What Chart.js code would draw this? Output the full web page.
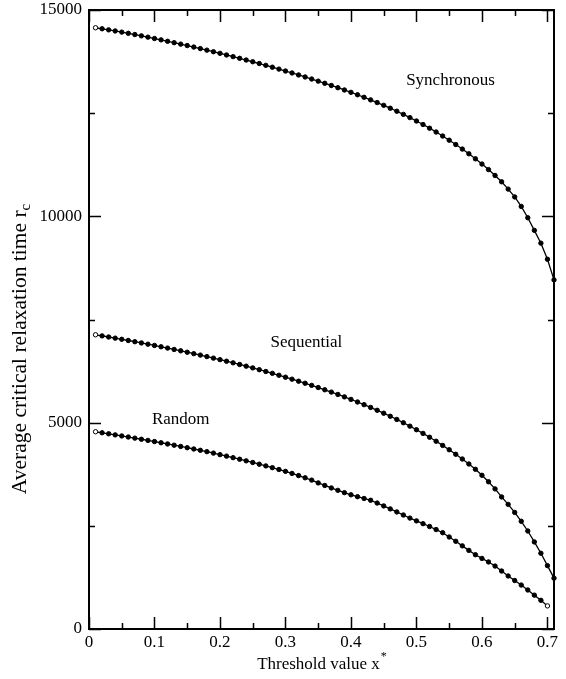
<!DOCTYPE html>
<html>
<head>
<meta charset="utf-8">
<script src="https://cdn.jsdelivr.net/npm/chart.js@4.4.1/dist/chart.umd.min.js"></script>
<style>
  html, body { margin: 0; padding: 0; background: #fff; }
</style>
</head>
<body>
<canvas id="relax-canva" width="566" height="679"></canvas>
<script>
// threshold values x* (step 0.01)
const thresholds = [
  0.01, 0.02, 0.03, 0.04, 0.05, 0.06, 0.07, 0.08, 0.09, 0.10,
  0.11, 0.12, 0.13, 0.14, 0.15, 0.16, 0.17, 0.18, 0.19, 0.20,
  0.21, 0.22, 0.23, 0.24, 0.25, 0.26, 0.27, 0.28, 0.29, 0.30,
  0.31, 0.32, 0.33, 0.34, 0.35, 0.36, 0.37, 0.38, 0.39, 0.40,
  0.41, 0.42, 0.43, 0.44, 0.45, 0.46, 0.47, 0.48, 0.49, 0.50,
  0.51, 0.52, 0.53, 0.54, 0.55, 0.56, 0.57, 0.58, 0.59, 0.60,
  0.61, 0.62, 0.63, 0.64, 0.65, 0.66, 0.67, 0.68, 0.69, 0.70,
  0.71
];

// average critical relaxation time for each update scheme
const synchronous = [
  14570, 14545, 14519, 14492, 14464, 14435, 14405, 14374, 14342, 14309,
  14276, 14242, 14208, 14173, 14138, 14102, 14065, 14027, 13989, 13950,
  13910, 13870, 13829, 13788, 13746, 13703, 13659, 13614, 13568, 13521,
  13474, 13426, 13377, 13327, 13276, 13224, 13171, 13117, 13062, 13005,
  12946, 12885, 12822, 12757, 12690, 12620, 12547, 12471, 12392, 12310,
  12225, 12136, 12043, 11946, 11845, 11740, 11630, 11515, 11394, 11267,
  11133, 10990, 10837, 10660, 10470, 10240, 9965, 9660, 9350, 8960,
  8460
];

const sequential = [
  7130, 7103, 7076, 7048, 7020, 6991, 6962, 6932, 6902, 6871,
  6839, 6807, 6774, 6741, 6707, 6672, 6637, 6601, 6564, 6527,
  6489, 6450, 6410, 6369, 6327, 6284, 6240, 6195, 6149, 6102,
  6054, 6005, 5955, 5904, 5851, 5797, 5741, 5684, 5625, 5564,
  5501, 5436, 5369, 5300, 5229, 5155, 5078, 4998, 4915, 4829,
  4740, 4647, 4550, 4449, 4344, 4234, 4119, 3999, 3870, 3725,
  3568, 3395, 3200, 3020, 2825, 2610, 2375, 2110, 1835, 1535,
  1232
];

// random scheme stops at x* = 0.70
const random = [
  4780, 4755, 4730, 4704, 4678, 4652, 4625, 4598, 4570, 4542,
  4513, 4484, 4454, 4424, 4393, 4362, 4330, 4298, 4262, 4225,
  4189, 4152, 4114, 4075, 4035, 3994, 3952, 3909, 3865, 3820,
  3770, 3718, 3664, 3608, 3540, 3478, 3418, 3360, 3304, 3252,
  3206, 3163, 3120, 3052, 2982, 2910, 2837, 2762, 2688, 2620,
  2552, 2484, 2410, 2333, 2230, 2125, 2015, 1905, 1800, 1710,
  1625, 1525, 1405, 1285, 1175, 1065, 945, 820, 695, 560
];

const xMinorTicks = [0.05, 0.15, 0.25, 0.35, 0.45, 0.55, 0.65];
const yMinorTicks = [2500, 7500, 12500];

const curveLabels = [
  { text: 'Synchronous', x: 0.552, y: 13280 },
  { text: 'Sequential',  x: 0.332, y: 6930 },
  { text: 'Random',      x: 0.140, y: 5064 }
];

const SERIF = '"Liberation Serif", "DejaVu Serif", serif';

function toPoints(values) {
  return values.map((v, i) => ({ x: thresholds[i], y: v }));
}

function makeSet(label, values) {
  const last = values.length - 1;
  return {
    label: label,
    data: toPoints(values),
    borderColor: '#000',
    borderWidth: 1.3,
    pointRadius: 2.2,
    pointBorderWidth: 1,
    pointBorderColor: '#000',
    // first point (and the last one of the random run) drawn hollow
    pointBackgroundColor: ctx => (ctx.dataIndex === 0 || (label === 'Random' && ctx.dataIndex === last)) ? '#fff' : '#000',
    tension: 0,
    clip: false
  };
}

const whiteBg = {
  id: 'whiteBg',
  beforeDraw(chart) {
    const ctx = chart.ctx;
    ctx.save();
    ctx.fillStyle = '#fff';
    ctx.fillRect(0, 0, chart.width, chart.height);
    ctx.restore();
  }
};

// box around the plot with inward ticks on all four sides
const frameTicks = {
  id: 'frameTicks',
  afterDatasetsDraw(chart) {
    const { ctx, chartArea: a, scales: { x, y } } = chart;
    ctx.save();
    ctx.strokeStyle = '#000';
    ctx.lineWidth = 1.5;
    ctx.beginPath();
    const xTick = (v, len) => {
      const px = Math.round(x.getPixelForValue(v)) + 0.5;
      ctx.moveTo(px, a.bottom); ctx.lineTo(px, a.bottom - len);
      ctx.moveTo(px, a.top); ctx.lineTo(px, a.top + len);
    };
    const yTick = (v, len) => {
      const py = Math.round(y.getPixelForValue(v)) + 0.5;
      ctx.moveTo(a.left, py); ctx.lineTo(a.left + len, py);
      ctx.moveTo(a.right, py); ctx.lineTo(a.right - len, py);
    };
    x.ticks.forEach(t => xTick(t.value, 12));
    xMinorTicks.forEach(v => xTick(v, 6));
    y.ticks.forEach(t => yTick(t.value, 12));
    yMinorTicks.forEach(v => yTick(v, 6));
    ctx.stroke();
    ctx.lineWidth = 2;
    ctx.strokeRect(a.left, a.top, a.right - a.left, a.bottom - a.top);
    ctx.restore();
  }
};

// curve names and axis titles (with sub/superscripts)
const texts = {
  id: 'texts',
  afterDraw(chart) {
    const { ctx, chartArea: a, scales: { x, y } } = chart;
    ctx.save();
    ctx.fillStyle = '#000';
    ctx.textBaseline = 'middle';
    ctx.textAlign = 'center';
    ctx.font = '17px ' + SERIF;
    curveLabels.forEach(l => {
      ctx.fillText(l.text, x.getPixelForValue(l.x), y.getPixelForValue(l.y));
    });

    // x title
    ctx.textAlign = 'left';
    const main = 'Threshold value x';
    ctx.font = '17px ' + SERIF;
    const w1 = ctx.measureText(main).width;
    ctx.font = '12px ' + SERIF;
    const w2 = ctx.measureText('*').width;
    const cx = (a.left + a.right) / 2;
    const sx = cx - (w1 + w2) / 2;
    ctx.font = '17px ' + SERIF;
    ctx.fillText(main, sx, 665);
    ctx.font = '12px ' + SERIF;
    ctx.fillText('*', sx + w1 + 1, 657);

    // y title, rotated
    ctx.translate(20, 349);
    ctx.rotate(-Math.PI / 2);
    const ym = 'Average critical relaxation time r';
    ctx.font = '21.5px ' + SERIF;
    const w3 = ctx.measureText(ym).width;
    ctx.font = '15px ' + SERIF;
    const w4 = ctx.measureText('c').width;
    const s = -(w3 + w4) / 2;
    ctx.font = '21.5px ' + SERIF;
    ctx.fillText(ym, s, 0);
    ctx.font = '15px ' + SERIF;
    ctx.fillText('c', s + w3, 6);
    ctx.restore();
  }
};

const tickFont = { family: SERIF, size: 17 };

const config = {
  type: 'line',
  data: {
    datasets: [
      makeSet('Synchronous', synchronous),
      makeSet('Sequential', sequential),
      makeSet('Random', random)
    ]
  },
  options: {
    responsive: false,
    animation: false,
    devicePixelRatio: 1,
    layout: { padding: { top: 10, right: 12, left: 0, bottom: 0 } },
    plugins: {
      legend: { display: false },
      title: { display: false },
      tooltip: { enabled: false }
    },
    scales: {
      x: {
        type: 'linear',
        min: 0,
        max: 0.71,
        grid: { display: false, drawTicks: false },
        border: { display: false },
        ticks: {
          stepSize: 0.1,
          includeBounds: false,
          autoSkip: false,
          maxRotation: 0,
          color: '#000',
          font: tickFont,
          padding: 3
        },
        afterFit: s => { s.height = 50; }
      },
      y: {
        type: 'linear',
        min: 0,
        max: 15000,
        grid: { display: false, drawTicks: false },
        border: { display: false },
        ticks: {
          stepSize: 5000,
          color: '#000',
          font: tickFont,
          padding: 7,
          callback: v => String(v)
        },
        afterFit: s => { s.width = 89; s.paddingTop = 0; s.paddingBottom = 0; }
      }
    }
  },
  plugins: [whiteBg, frameTicks, texts]
};

let chart = new Chart(document.getElementById('relax-canva'), config);
</script>
</body>
</html>
